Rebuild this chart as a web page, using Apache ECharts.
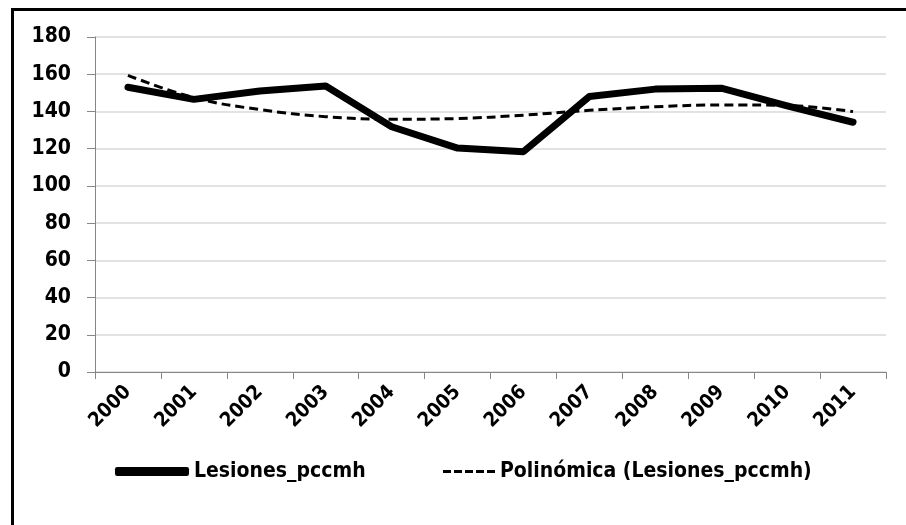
<!DOCTYPE html>
<html>
<head>
<meta charset="utf-8">
<script src="https://cdn.jsdelivr.net/npm/echarts@6/dist/echarts.min.js"></script>
<style>
  html, body { margin: 0; padding: 0; background: #fff; }
  #wrap { position: relative; width: 906px; height: 525px; overflow: hidden; }
  #chart { width: 906px; height: 525px; }
  #frame {
    position: absolute; left: 11px; top: 8px; width: 910px; height: 530px;
    border: 3px solid #000; pointer-events: none;
  }
</style>
</head>
<body>
<div id="wrap">
  <div id="chart"></div>
  <div id="frame"></div>
</div>
<script>
// datos
const years = ['2000', '2001', '2002', '2003', '2004', '2005', '2006', '2007', '2008', '2009', '2010', '2011']
const lesiones = [153, 146.5, 151, 153.7, 131.8, 120.3, 118.4, 148, 152, 152.5, 143, 134.2]
const polinomica = [159.4, 147.4, 141, 137.2, 135.8, 136.2, 138, 140.6, 142.5, 143.5, 143.2, 139.9]
const yTicks = [0, 20, 40, 60, 80, 100, 120, 140, 160, 180]

const FONT = "'DejaVu Sans Condensed', 'DejaVu Sans', sans-serif"

// icono de guiones para la leyenda de la tendencia
const DASH_ICON = 'path://M0,0h8v3h-8z M11,0h8v3h-8z M22,0h8v3h-8z M33,0h8v3h-8z M44,0h8v3h-8z'

const chart = echarts.init(document.getElementById('chart'))

const legendText = { color: '#000', fontWeight: 'bold', fontSize: 21, fontFamily: FONT }

chart.setOption({
  backgroundColor: '#fff',
  animation: false,
  textStyle: { fontFamily: FONT },
  grid: { left: 95, right: 20, top: 37, bottom: 153 },
  xAxis: {
    type: 'category',
    data: years,
    boundaryGap: true,
    axisLine: { lineStyle: { color: '#868686', width: 1 } },
    axisTick: { show: true, length: 7, lineStyle: { color: '#868686' } },
    axisLabel: {
      rotate: 45,
      margin: 17,
      color: '#000',
      fontWeight: 'bold',
      fontSize: 20,
      fontFamily: FONT
    }
  },
  yAxis: {
    type: 'value',
    min: yTicks[0],
    max: yTicks[yTicks.length - 1],
    interval: 20,
    axisLine: { show: true, lineStyle: { color: '#868686', width: 1 } },
    axisTick: { show: true, length: 8, lineStyle: { color: '#868686' } },
    splitLine: { lineStyle: { color: '#d9d9d9', width: 1.5 } },
    axisLabel: {
      color: '#000',
      fontWeight: 'bold',
      fontSize: 21,
      margin: 24,
      fontFamily: FONT
    }
  },
  legend: [
    {
      data: [{ name: 'Lesiones_pccmh', icon: 'roundRect' }],
      left: 110,
      top: 456,
      itemWidth: 74,
      itemHeight: 9,
      itemStyle: { color: '#000' },
      textStyle: legendText
    },
    {
      data: [{ name: 'Polinómica (Lesiones_pccmh)', icon: DASH_ICON }],
      left: 438,
      top: 456,
      itemWidth: 52,
      itemHeight: 3,
      itemStyle: { color: '#000' },
      textStyle: legendText
    }
  ],
  series: [
    {
      name: 'Polinómica (Lesiones_pccmh)',
      type: 'line',
      data: polinomica,
      symbol: 'none',
      smooth: 0.4,
      z: 3,
      color: '#000',
      lineStyle: { color: '#000', width: 3, type: [9, 5] }
    },
    {
      name: 'Lesiones_pccmh',
      type: 'line',
      data: lesiones,
      symbol: 'none',
      z: 2,
      color: '#000',
      lineStyle: { color: '#000', width: 7, cap: 'round', join: 'round' }
    }
  ]
})
</script>
</body>
</html>
